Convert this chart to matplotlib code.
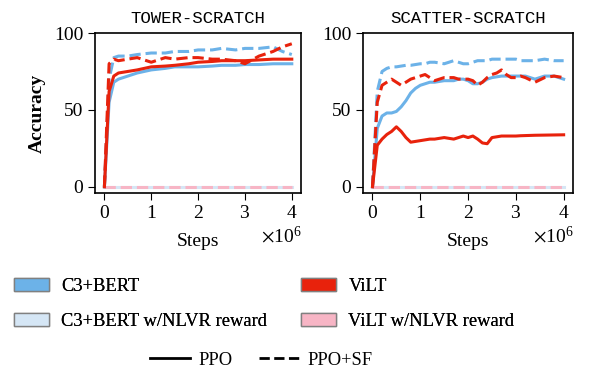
import numpy as np
import matplotlib.pyplot as plt
from matplotlib.patches import Patch
from matplotlib.lines import Line2D

plt.rcParams["font.family"] = "Liberation Serif"
plt.rcParams["mathtext.fontset"] = "stix"
plt.rcParams["font.size"] = 14

BLUE = "#6cb2e8"
LIGHT_BLUE = "#d5e6f5"
RED = "#e8220c"
PINK = "#f7b5c5"

# steps in millions
tower_x = [0, 0.1, 0.2, 0.3, 0.5, 0.7, 1.0, 1.3, 1.5, 1.8, 2.0, 2.3, 2.5, 2.8, 3.0, 3.3, 3.6, 3.8, 4.0]
tower_bert_ppo = [0, 55, 68, 70, 72, 74, 76, 77, 78, 78, 78, 78.5, 79, 79, 79.5, 79.5, 80, 80, 80]
tower_bert_sf = [0, 70, 84, 85, 85, 86, 87, 87, 88, 88, 89, 89, 90, 89, 90, 90, 91, 88, 86]
tower_vilt_ppo = [0, 62, 72, 74, 75, 76, 78, 78.5, 79, 80, 81, 81.5, 82, 82, 82, 82.5, 83, 83, 83]
tower_vilt_sf = [0, 80, 83, 82, 83, 84, 81, 84, 83, 84, 84, 83, 83, 82, 80, 85, 88, 91, 93]

scatter_x = [0, 0.1, 0.2, 0.3, 0.4, 0.5, 0.6, 0.7, 0.8, 0.9, 1.0, 1.1, 1.2, 1.3, 1.5, 1.6, 1.7,
             1.8, 1.9, 2.0, 2.1, 2.2, 2.3, 2.4, 2.5, 2.6, 2.7, 2.8, 2.9, 3.0, 3.1, 3.2,
             3.4, 3.6, 3.8, 4.0]
scatter_bert_ppo = [0, 38, 46, 48, 48, 49, 52, 56, 61, 64, 66, 67, 68, 68, 69, 69, 69,
                    70, 70, 69, 67, 67, 68, 70, 71, 71.5, 72, 72, 72, 72, 72, 72,
                    70, 72, 72, 70]
scatter_bert_sf = [0, 62, 75, 77, 78, 78, 78.5, 79, 79, 79.5, 80, 80, 81, 81, 80, 81, 82,
                   81, 80, 80, 81, 82, 82, 82, 83, 83, 83, 83, 83, 83, 82, 82,
                   82, 83, 82, 82]
scatter_vilt_ppo = [0, 27, 31, 34, 36, 39, 36, 32, 29, 29.5, 30, 30.5, 31, 31, 32, 31.5, 31,
                    32, 33, 32, 33, 31, 28.5, 28, 32, 32.5, 33, 33, 33, 33, 33.2, 33.3,
                    33.5, 33.6, 33.7, 33.8]
scatter_vilt_sf = [0, 55, 66, 68, 70, 68, 66, 68, 70, 71, 72, 73, 71, 69, 71, 71, 71,
                   70, 70, 70, 69, 66, 68, 71, 73, 74, 76, 73, 71, 71, 72, 71,
                   68, 71, 72, 71]

fig = plt.figure(figsize=(5.94, 3.71), dpi=100)
ax1 = fig.add_axes([0.160, 0.480, 0.347, 0.431])
ax2 = fig.add_axes([0.611, 0.480, 0.354, 0.431])

panels = [
    (ax1, "TOWER-SCRATCH", tower_x, tower_bert_ppo, tower_bert_sf, tower_vilt_ppo, tower_vilt_sf),
    (ax2, "SCATTER-SCRATCH", scatter_x, scatter_bert_ppo, scatter_bert_sf, scatter_vilt_ppo, scatter_vilt_sf),
]

for ax, title, xs, bert_ppo, bert_sf, vilt_ppo, vilt_sf in panels:
    x = np.array(xs) * 1e6
    zeros = np.zeros_like(x)
    ax.plot(x, zeros, color=LIGHT_BLUE, lw=2.2)
    ax.plot(x, zeros, color=PINK, lw=2.2, ls="--")
    ax.plot(x, bert_ppo, color=BLUE, lw=2.2)
    ax.plot(x, bert_sf, color=BLUE, lw=2.2, ls="--")
    ax.plot(x, vilt_ppo, color=RED, lw=2.2)
    ax.plot(x, vilt_sf, color=RED, lw=2.2, ls="--")
    ax.set_title(title, family="Liberation Mono", fontsize=12.5, pad=7)
    ax.set_xlim(-0.2e6, 4.2e6)
    ax.set_ylim(-4, 100)
    ax.set_yticks([0, 50, 100])
    ax.set_xticks([0, 1e6, 2e6, 3e6, 4e6])
    ax.set_xlabel("Steps", labelpad=8)
    ax.ticklabel_format(axis="x", style="sci", scilimits=(0, 0), useMathText=True)
    ax.xaxis.get_offset_text().set_fontsize(14)
    ax.tick_params(labelsize=14, length=5)
    for s in ax.spines.values():
        s.set_linewidth(1.2)

ax1.set_ylabel("Accuracy", fontweight="bold", labelpad=6)

model_handles = [
    Patch(facecolor=BLUE, edgecolor="gray", label="C3+BERT"),
    Patch(facecolor=LIGHT_BLUE, edgecolor="gray", label="C3+BERT w/NLVR reward"),
    Patch(facecolor=RED, edgecolor="gray", label="ViLT"),
    Patch(facecolor=PINK, edgecolor="gray", label="ViLT w/NLVR reward"),
]
leg1 = fig.legend(handles=model_handles, ncol=2, frameon=False, loc="upper center",
                  bbox_to_anchor=(0.445, 0.27), columnspacing=1.85, handlelength=1.9,
                  handletextpad=0.65, fontsize=13.3, labelspacing=0.95, borderaxespad=0)
fig.add_artist(leg1)

style_handles = [
    Line2D([0], [0], color="black", lw=2, label="PPO"),
    Line2D([0], [0], color="black", lw=2, ls="--", label="PPO+SF"),
]
fig.legend(handles=style_handles, ncol=2, frameon=False, loc="upper center",
           bbox_to_anchor=(0.44, 0.072), columnspacing=1.4, handlelength=2.2,
           handletextpad=0.45, fontsize=13.3, borderaxespad=0)

fig.savefig("out.png", dpi=100)
